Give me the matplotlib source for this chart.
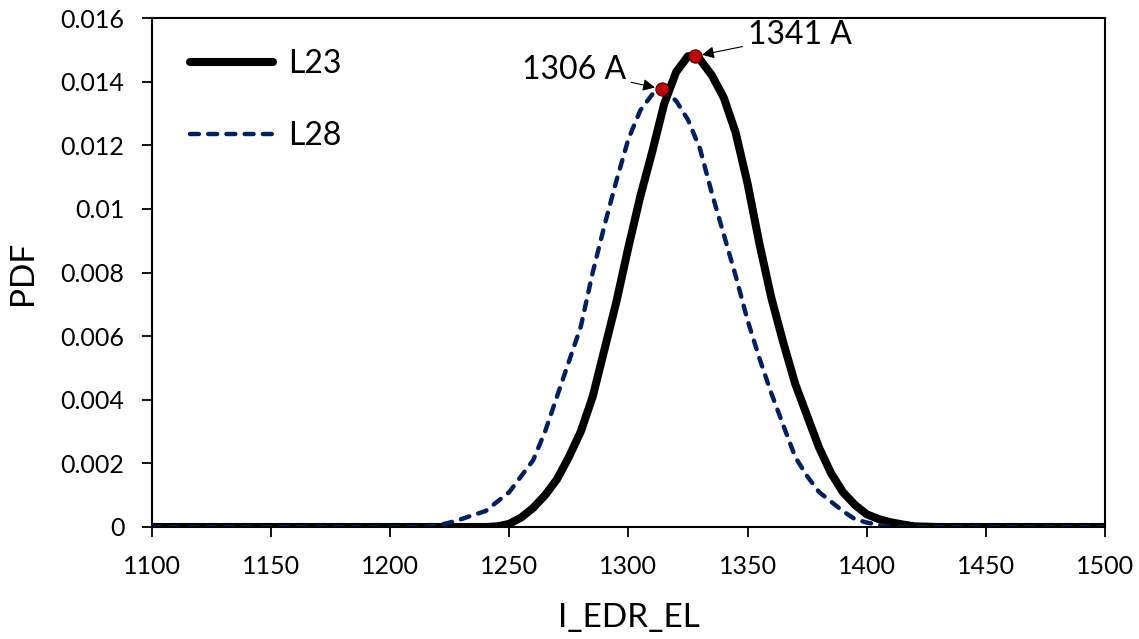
import matplotlib.pyplot as plt

plt.rcParams['font.family'] = ['Lato', 'DejaVu Sans']

# L23 curve
l23_x = [1100, 1150, 1200, 1230, 1240, 1245, 1250, 1255, 1260, 1265, 1270, 1275, 1280,
         1285, 1290, 1295, 1300, 1305, 1310, 1315, 1320, 1325, 1328, 1330, 1335, 1340,
         1345, 1350, 1355, 1360, 1365, 1370, 1375, 1380, 1385, 1390, 1395, 1400, 1405,
         1410, 1415, 1420, 1430, 1450, 1500]
l23_y = [0, 0, 0, 0, 0, 0.00002, 0.0001, 0.0003, 0.0006, 0.001, 0.0015, 0.0022, 0.003,
         0.0041, 0.0056, 0.0071, 0.0088, 0.0104, 0.0118, 0.0133, 0.0143, 0.0148, 0.0148,
         0.0147, 0.0142, 0.0135, 0.0124, 0.0108, 0.0089, 0.0072, 0.0058, 0.0045, 0.0035,
         0.0025, 0.0017, 0.0011, 0.0007, 0.0004, 0.00025, 0.00015, 0.00008, 0.00002,
         0, 0, 0]

# L28 curve
l28_x = [1100, 1150, 1200, 1215, 1220, 1225, 1230, 1235, 1240, 1245, 1250, 1255, 1260,
         1265, 1270, 1275, 1280, 1285, 1290, 1295, 1300, 1305, 1310, 1314, 1315, 1320,
         1325, 1330, 1335, 1340, 1345, 1350, 1355, 1360, 1365, 1370, 1375, 1380, 1385,
         1390, 1395, 1400, 1405, 1410, 1450, 1500]
l28_y = [0, 0, 0, 0, 0.00005, 0.00014, 0.00025, 0.00038, 0.0005, 0.0008, 0.0011, 0.0016,
         0.0021, 0.003, 0.0041, 0.0052, 0.0063, 0.008, 0.0095, 0.0109, 0.0122, 0.0131,
         0.0136, 0.01377, 0.0137, 0.0134, 0.0128, 0.0119, 0.0105, 0.0092, 0.0079, 0.0065,
         0.0053, 0.0042, 0.0032, 0.0022, 0.0016, 0.0011, 0.0008, 0.0005, 0.00025,
         0.00014, 0.00007, 0, 0, 0]

# peak points and their labels
peak_x = [1328, 1314]
peak_y = [0.0148, 0.01377]
peak_labels = ['1341 A', '1306 A']
label_pos = [(1372, 0.01547), (1277, 0.01437)]

x_ticks = [1100, 1150, 1200, 1250, 1300, 1350, 1400, 1450, 1500]
y_ticks = [0, 0.002, 0.004, 0.006, 0.008, 0.01, 0.012, 0.014, 0.016]
y_tick_labels = ['0', '0.002', '0.004', '0.006', '0.008', '0.01', '0.012', '0.014', '0.016']

fig = plt.figure(figsize=(11.39, 6.39), dpi=100)
ax = fig.add_axes([0.1335, 0.1753, 0.8365, 0.7965])

ax.plot(l23_x, l23_y, color='black', lw=5.8, solid_capstyle='round',
        solid_joinstyle='round', label='L23')
ax.plot(l28_x, l28_y, color='#002060', lw=3.2, dashes=(2, 2.1),
        dash_capstyle='round', label='L28')
ax.plot(peak_x, peak_y, 'o', color='#C00000', mec='#400000', mew=0.8, ms=9.5, zorder=5)

for px, py, txt, (tx, ty) in zip(peak_x, peak_y, peak_labels, label_pos):
    ax.annotate(txt, xy=(px, py), xytext=(tx, ty), fontsize=23,
                ha='center', va='center',
                arrowprops=dict(arrowstyle='-|>', color='black', lw=0.8,
                                mutation_scale=18, shrinkA=2, shrinkB=5))

ax.set_xlim(1100, 1500)
ax.set_ylim(0, 0.016)
ax.set_xticks(x_ticks)
ax.set_yticks(y_ticks)
ax.set_yticklabels(y_tick_labels)
ax.tick_params(direction='out', length=7, width=1.3, labelsize=18, pad=13)
for s in ax.spines.values():
    s.set_linewidth(1.5)

ax.set_xlabel('I_EDR_EL', fontsize=24, labelpad=18)
ax.set_ylabel('PDF', fontsize=24, labelpad=16)

ax.legend(loc='upper left', frameon=False, fontsize=23, handlelength=2.6,
          handletextpad=0.45, labelspacing=1.3, bbox_to_anchor=(0.01, 0.995))

fig.savefig('out.png', dpi=100)
